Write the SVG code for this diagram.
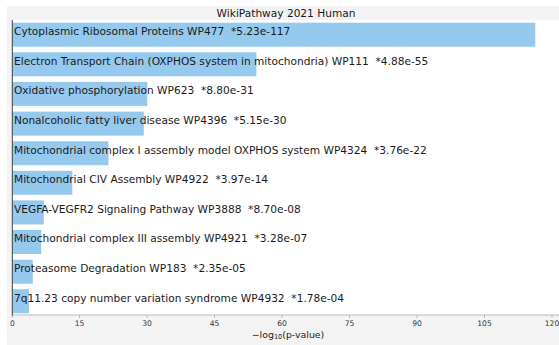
<svg xmlns="http://www.w3.org/2000/svg" width="559" height="345" viewBox="0 0 559 345">
<style>
.bg{fill:#f3f3f3}
.plot{fill:#ffffff}
.bar{fill:#95c9ee}
.lbl{font-family:"DejaVu Sans",sans-serif;font-size:10.6px;fill:#1a1a1a;white-space:pre}
.title{font-family:"DejaVu Sans",sans-serif;font-size:10.6px;fill:#1a1a1a;text-anchor:middle}
.tick{font-family:"DejaVu Sans",sans-serif;font-size:7.6px;fill:#333;text-anchor:middle}
.axl{font-family:"DejaVu Sans",sans-serif;font-size:9.4px;fill:#1a1a1a;text-anchor:middle}
.tk{stroke:#aaaaaa;stroke-width:0.8}
</style>
<rect width="559" height="345" fill="#ffffff"/>
<rect class="bg" x="7" y="6" width="552" height="339"/>
<rect class="plot" x="12" y="20" width="547" height="295"/>
<text class="title" x="286" y="17.3">WikiPathway 2021 Human</text>
<g id="bar1"><rect class="bar" x="12" y="22.7" width="523.3" height="24"/><text class="lbl" xml:space="preserve" x="14" y="35">Cytoplasmic Ribosomal Proteins WP477  *5.23e-117</text></g>
<g id="bar2"><rect class="bar" x="12" y="52.3" width="244.4" height="24"/><text class="lbl" xml:space="preserve" x="14" y="64.6">Electron Transport Chain (OXPHOS system in mitochondria) WP111  *4.88e-55</text></g>
<g id="bar3"><rect class="bar" x="12" y="81.9" width="135.3" height="24"/><text class="lbl" xml:space="preserve" x="14" y="94.2">Oxidative phosphorylation WP623  *8.80e-31</text></g>
<g id="bar4"><rect class="bar" x="12" y="111.6" width="131.8" height="24"/><text class="lbl" xml:space="preserve" x="14" y="123.9">Nonalcoholic fatty liver disease WP4396  *5.15e-30</text></g>
<g id="bar5"><rect class="bar" x="12" y="141.2" width="96.4" height="24"/><text class="lbl" xml:space="preserve" x="14" y="153.5">Mitochondrial complex I assembly model OXPHOS system WP4324  *3.76e-22</text></g>
<g id="bar6"><rect class="bar" x="12" y="170.8" width="60.3" height="24"/><text class="lbl" xml:space="preserve" x="14" y="183.1">Mitochondrial CIV Assembly WP4922  *3.97e-14</text></g>
<g id="bar7"><rect class="bar" x="12" y="200.4" width="31.8" height="24"/><text class="lbl" xml:space="preserve" x="14" y="212.7">VEGFA-VEGFR2 Signaling Pathway WP3888  *8.70e-08</text></g>
<g id="bar8"><rect class="bar" x="12" y="230" width="29.2" height="24"/><text class="lbl" xml:space="preserve" x="14" y="242.3">Mitochondrial complex III assembly WP4921  *3.28e-07</text></g>
<g id="bar9"><rect class="bar" x="12" y="259.7" width="20.8" height="24"/><text class="lbl" xml:space="preserve" x="14" y="272">Proteasome Degradation WP183  *2.35e-05</text></g>
<g id="bar10"><rect class="bar" x="12" y="289.3" width="16.9" height="24"/><text class="lbl" xml:space="preserve" x="14" y="301.6">7q11.23 copy number variation syndrome WP4932  *1.78e-04</text></g>
<g id="axes">
<line x1="12" y1="315" x2="559" y2="315" stroke="#bbbbbb" stroke-width="1"/>
<line x1="12.3" y1="20" x2="12.3" y2="316" stroke="#444444" stroke-width="1"/>
<g class="tk">
<line x1="12.3" y1="315" x2="12.3" y2="318"/><line x1="79.5" y1="315" x2="79.5" y2="318"/><line x1="147" y1="315" x2="147" y2="318"/><line x1="214.5" y1="315" x2="214.5" y2="318"/><line x1="282" y1="315" x2="282" y2="318"/><line x1="349.5" y1="315" x2="349.5" y2="318"/><line x1="417" y1="315" x2="417" y2="318"/><line x1="484.5" y1="315" x2="484.5" y2="318"/><line x1="552" y1="315" x2="552" y2="318"/>
</g>
<text class="tick" x="12.3" y="326">0</text><text class="tick" x="79.5" y="326">15</text><text class="tick" x="147" y="326">30</text><text class="tick" x="214.5" y="326">45</text><text class="tick" x="282" y="326">60</text><text class="tick" x="349.5" y="326">75</text><text class="tick" x="417" y="326">90</text><text class="tick" x="484.5" y="326">105</text><text class="tick" x="552" y="326">120</text>
<text class="axl" x="288" y="337.5">−log<tspan font-size="6.6" dy="1.5">10</tspan><tspan dy="-1.5">(p-value)</tspan></text>
</g>
</svg>
